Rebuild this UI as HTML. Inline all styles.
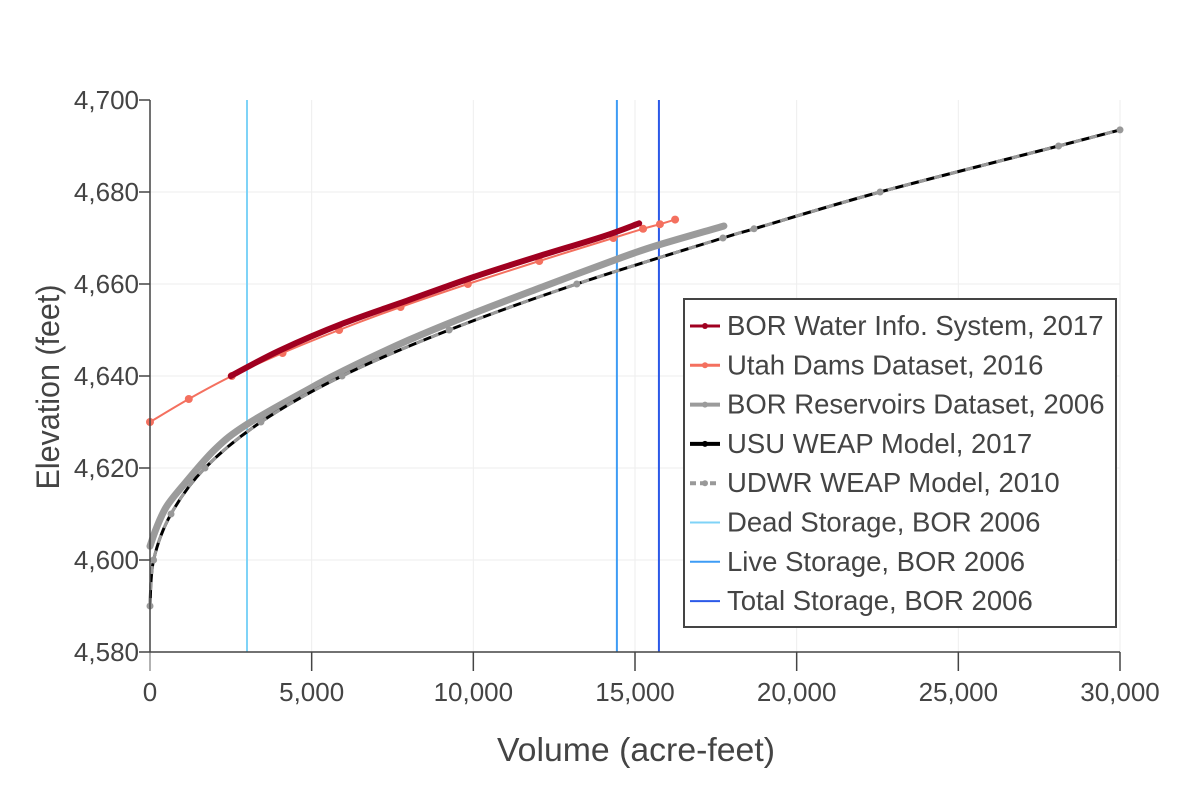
<!DOCTYPE html>
<html><head><meta charset="utf-8"><style>
body{margin:0;background:#fff;}
svg text{font-family:"Liberation Sans",Arial,sans-serif;fill:#444;}
</style></head><body>
<svg id="chart" width="1200" height="800" xmlns="http://www.w3.org/2000/svg">
<g id="grid"></g>
<g id="vlines"></g>
<g id="series"></g>
<g id="axes"></g>
<text x="636" y="761" font-size="33" text-anchor="middle" textLength="278" lengthAdjust="spacingAndGlyphs">Volume (acre-feet)</text>
<text x="0" y="0" font-size="32" text-anchor="middle" textLength="205" lengthAdjust="spacingAndGlyphs" transform="translate(59,387) rotate(-90)">Elevation (feet)</text>
<g id="legend"></g>
</svg>
<script>
const xTicks=[0,5000,10000,15000,20000,25000,30000];
const xTickLabels=["0","5,000","10,000","15,000","20,000","25,000","30,000"];
const yTicks=[4580,4600,4620,4640,4660,4680,4700];
const yTickLabels=["4,580","4,600","4,620","4,640","4,660","4,680","4,700"];
const borWisV=[2500,4000,6000,8000,10000,12000,14000,15130];
const borWisE=[4640,4645.5,4651.5,4656.5,4661.5,4666,4670.3,4673.2];
const utahV=[0,1200,2530,4100,5850,7750,9830,12040,14330,15250,15770,16240];
const utahE=[4630,4635,4640,4645,4650,4655,4660,4665,4670,4672,4673,4674];
const borResV=[0,200,500,1000,2000,3000,5000,6000,8000,10000,12000,14600,15740,17750];
const borResE=[4603,4607,4611.5,4616,4624,4629.5,4637.5,4641.2,4647.8,4653.6,4659,4665.8,4668.5,4672.6];
const weapV=[0,110,650,1700,3430,5940,9250,13200,17720,18680,22580,28100,30000];
const weapE=[4590,4600,4610,4620,4630,4640,4650,4660,4670,4672,4680,4690,4693.5];
const storageNames=["Dead Storage, BOR 2006","Live Storage, BOR 2006","Total Storage, BOR 2006"];
const storageV=[3000,14440,15740];
const storageColors=["#7fd3f7","#3d9cf5","#2b59e8"];

const NS="http://www.w3.org/2000/svg";
const X0=150,X1=1120,Y0=652,Y1=100;
const xs=v=>X0+(v-0)/(30000-0)*(X1-X0);
const ys=e=>Y0-(e-4580)/(4700-4580)*(Y0-Y1);
function mk(tag,attrs,parent){const el=document.createElementNS(NS,tag);for(const k in attrs)el.setAttribute(k,attrs[k]);parent.appendChild(el);return el;}
const grid=document.getElementById('grid'),axes=document.getElementById('axes'),series=document.getElementById('series'),vl=document.getElementById('vlines'),leg=document.getElementById('legend');
xTicks.forEach((t,i)=>{
 if(i>0){const g=mk('line',{x1:xs(t),x2:xs(t),y1:Y1,y2:Y0,stroke:'#eee','stroke-width':1},grid);
 
 }
 const tk=mk('line',{x1:xs(t),x2:xs(t),y1:Y0,y2:Y0+19,stroke:i==0?'#999':'#444','stroke-width':1.5},axes);
 
 
 const tx=mk('text',{x:xs(t),y:Y0+49,'font-size':26,'text-anchor':'middle'},axes);tx.textContent=xTickLabels[i];
 
 
});
yTicks.forEach((t,i)=>{
 if(i>0&&i<yTicks.length-1){const g=mk('line',{x1:X0,x2:X1,y1:ys(t),y2:ys(t),stroke:'#eee','stroke-width':1},grid);
 
 }
 const tk=mk('line',{x1:X0-11,x2:X0,y1:ys(t),y2:ys(t),stroke:'#444','stroke-width':1.5},axes);
 
 
 const tx=mk('text',{x:X0-11,y:ys(t)+9,'font-size':26,'text-anchor':'end'},axes);tx.textContent=yTickLabels[i];
 
 
});
const ya=mk('line',{x1:X0,x2:X0,y1:Y1,y2:Y0,stroke:'#444','stroke-width':1.5},axes);


const xa=mk('line',{x1:X0,x2:X1,y1:Y0,y2:Y0,stroke:'#444','stroke-width':1.5},axes);


storageV.forEach((v,i)=>{const l=mk('line',{x1:xs(v),x2:xs(v),y1:Y1,y2:Y0,stroke:storageColors[i],'stroke-width':2},vl);
 
 });
function smooth(V,E){const P=V.map((v,i)=>[xs(v),ys(E[i])]);let d='M'+P[0][0].toFixed(1)+','+P[0][1].toFixed(1);
 for(let i=0;i<P.length-1;i++){const p0=P[Math.max(0,i-1)],p1=P[i],p2=P[i+1],p3=P[Math.min(P.length-1,i+2)];
 const c1=[p1[0]+(p2[0]-p0[0])/6,p1[1]+(p2[1]-p0[1])/6],c2=[p2[0]-(p3[0]-p1[0])/6,p2[1]-(p3[1]-p1[1])/6];
 d+=' C'+c1.map(n=>n.toFixed(1))+' '+c2.map(n=>n.toFixed(1))+' '+p2.map(n=>n.toFixed(1));}return d;}
function line(V,E,attrs,name){const p=mk('path',Object.assign({d:smooth(V,E),fill:'none','stroke-linejoin':'round','stroke-linecap':'round'},attrs),series);
 
 }
function dots(V,E,r,c,name){V.forEach((v,i)=>{const d=mk('circle',{cx:xs(v),cy:ys(E[i]),r:r,fill:c},series);
 
 });}
line(borResV,borResE,{stroke:'#9b9b9b','stroke-width':7},'bor-reservoirs-line');
line(weapV,weapE,{stroke:'#000','stroke-width':3},'usu-weap-line');
line(weapV,weapE,{stroke:'#999','stroke-width':3,'stroke-dasharray':'8,8','stroke-linecap':'butt'},'udwr-weap-line');
dots(weapV,weapE,3.5,'#999','udwr-weap-point');
line(utahV,utahE,{stroke:'#f4705f','stroke-width':2},'utah-dams-line');
dots(utahV,utahE,4,'#f4705f','utah-dams-point');
line(borWisV,borWisE,{stroke:'#a00020','stroke-width':6},'bor-wis-line');
const lb=mk('rect',{x:684,y:299,width:432,height:328,fill:'#fff',stroke:'#444','stroke-width':2},leg);


const legNames=["BOR Water Info. System, 2017","Utah Dams Dataset, 2016","BOR Reservoirs Dataset, 2006","USU WEAP Model, 2017","UDWR WEAP Model, 2010"].concat(storageNames);
const legColors=["#a00020","#f4705f","#9b9b9b","#000","#999"].concat(storageColors);
const legW=[3,3,4,4,4,2,2,2];
legNames.forEach((n,i)=>{const y=326+i*39.3;
 const g=mk('g',{},leg);
 
 
 mk('line',{x1:690,x2:720,y1:y,y2:y,stroke:legColors[i],'stroke-width':legW[i],'stroke-dasharray':i==4?'6,4':'none'},g);
 if(i<5)mk('circle',{cx:705,cy:y,r:3,fill:legColors[i]},g);
 const t=mk('text',{x:727,y:y+9,'font-size':27.5},g);t.textContent=n;});
</script>
</body></html>
